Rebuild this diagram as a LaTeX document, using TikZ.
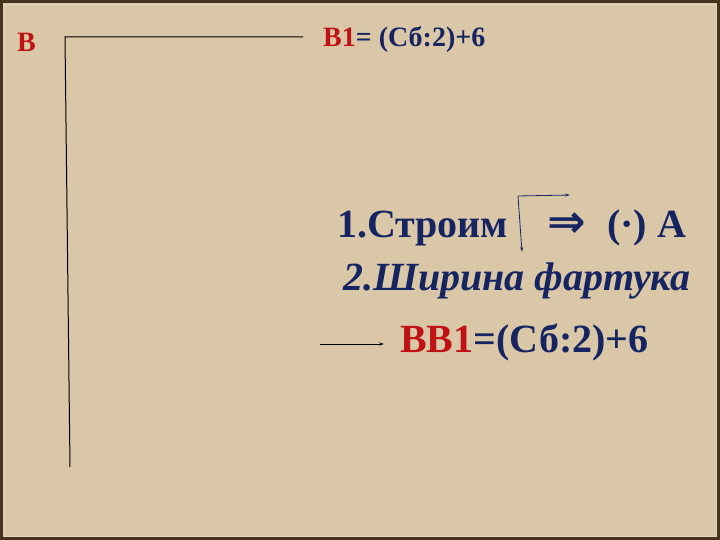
\documentclass[tikz,border=0pt]{standalone}
\usepackage{fontspec}
\setmainfont{Liberation Serif}
\newfontfamily\timesfont{Liberation Serif}
\newfontfamily\arrowfont{DejaVu Sans}
\usetikzlibrary{arrows.meta}
\definecolor{paper}{RGB}{217,199,168}
\definecolor{frame}{RGB}{70,52,30}
\definecolor{navy}{RGB}{22,36,98}
\definecolor{redtxt}{RGB}{192,18,20}
\tikzset{
  txt/.style={anchor=base west,inner sep=0pt,text=navy,font=\timesfont\bfseries\fontsize{40}{44}\selectfont},
  smalltxt/.style={txt,font=\timesfont\bfseries\fontsize{28}{32}\selectfont},
  edge/.style={black,line width=1pt},
  tip/.style={-{Stealth[length=5pt,width=3pt]}}
}
\begin{document}
\begin{tikzpicture}[x=1pt,y=-1pt]
% background and frame
\fill[paper] (0,0) rectangle (720,540);
\draw[frame,line width=3pt] (1.5,1.5) rectangle (718.5,538.5);
\draw[paper!70!white,line width=0.8pt] (4,4) rectangle (716,536);
\useasboundingbox (0,0) rectangle (720,540);
% big corner
\coordinate (corner) at (65,37);
\coordinate (top end) at (303,37);
\coordinate (low end) at (70,467);
\draw[edge] (top end) -- (corner) -- (low end);
% headings
\node[smalltxt,text=redtxt] (pointB) at (17,52) {B};
\node[smalltxt] (formula) at (323,47) {\textcolor{redtxt}{B1}= (Сб:2)+6};
% steps
\node[txt] (step one) at (337,237) {1.Строим};
\coordinate (angle) at (518,196);
\coordinate (angle right) at (570,195);
\coordinate (angle down) at (522,252);
\draw[navy,line width=0.8pt,tip] (angle) -- (angle right);
\draw[navy,line width=0.8pt,tip] (angle) -- (angle down);
\node[txt,anchor=base,font=\arrowfont\bfseries\fontsize{46}{50}\selectfont] (implies) at (567,237) {⇒};
\node[txt] (pointA) at (607,237) {(·) A};
\node[txt,font=\timesfont\bfseries\itshape\fontsize{40}{44}\selectfont] (step two) at (343,290) {2.Ширина фартука};
\node[txt] (result) at (400,352) {\textcolor{redtxt}{BB1}=(Сб:2)+6};
\coordinate (arrow start) at (320,344);
\coordinate (arrow end) at (384,344);
\draw[edge,tip] (arrow start) -- (arrow end);
\end{tikzpicture}
\end{document}
